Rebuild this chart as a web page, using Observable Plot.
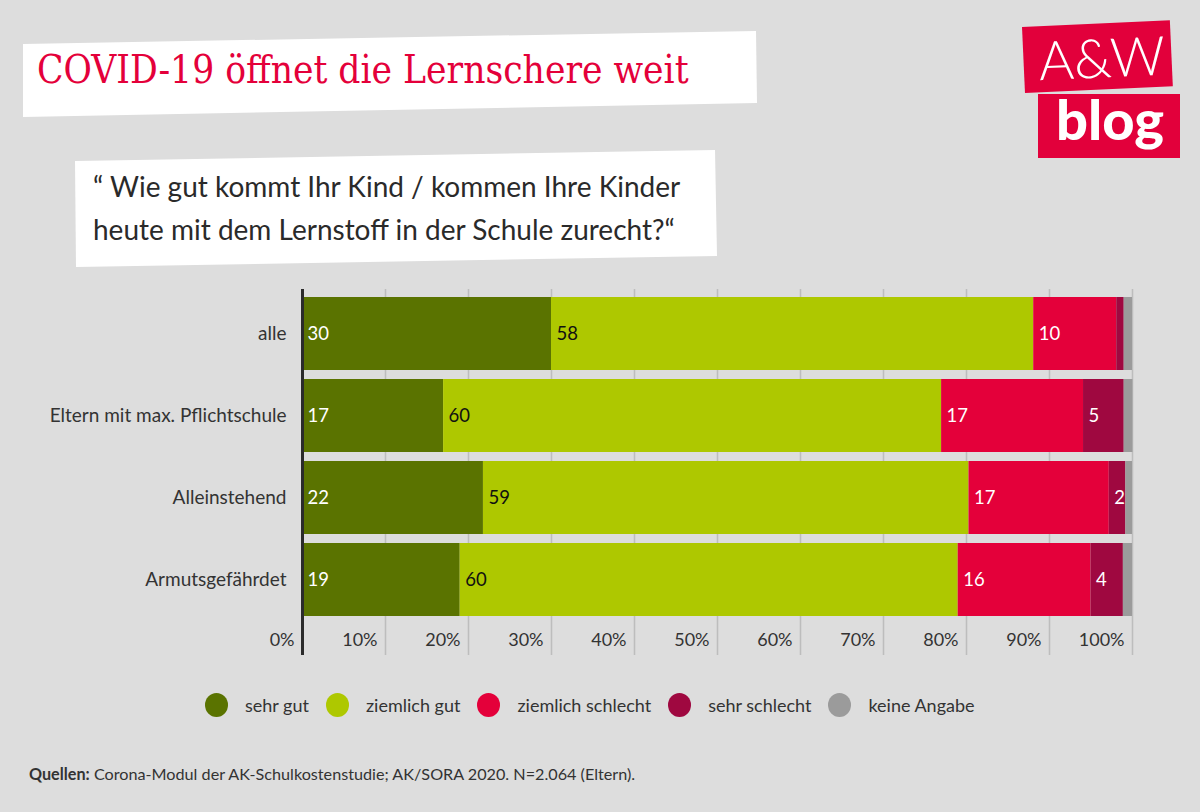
<!DOCTYPE html>
<html>
<head>
<meta charset="utf-8">
<script src="https://cdn.jsdelivr.net/npm/d3@7"></script>
<script src="https://cdn.jsdelivr.net/npm/@observablehq/plot@0.6"></script>
<style>
  html, body { margin: 0; padding: 0; }
  body { width: 1200px; height: 812px; background: #dddddd; position: relative; overflow: hidden; font-family: "Lato", sans-serif; color: #333; }
  .box { position: absolute; background: #fff; }
  #titlebox { left: 23px; top: 31px; width: 734px; height: 86px; clip-path: polygon(0px 13px, 733px 0px, 734px 72px, 0px 86px); }
  #title { position: absolute; left: 37px; top: 44px; font-family: "Liberation Serif", serif; font-size: 42px; color: #e4003a; white-space: nowrap; line-height: 52px; }
  #subbox { left: 75px; top: 150px; width: 642px; height: 117px; clip-path: polygon(0px 11px, 640px 0px, 642px 106px, 1px 117px); }
  #subtitle { position: absolute; left: 93px; top: 165px; font-size: 28px; line-height: 43px; color: #2a2a2a; white-space: nowrap; }
  #logo1 { position: absolute; left: 1022px; top: 27px; width: 148px; height: 66px; background: #e2003b; transform: rotate(-2.6deg); transform-origin: left top; }
  #logo1 span { position: absolute; left: 15px; top: 1px; font-family: "Lato", sans-serif; font-weight: 300; font-size: 54px; line-height: 66px; color: #fff; }
  #logo2 { position: absolute; left: 1038px; top: 94px; width: 142px; height: 64px; background: #e2003b; }
  #logo2 span { position: absolute; left: 18px; top: -7px; font-family: "Lato", sans-serif; font-weight: 900; font-size: 56px; line-height: 64px; color: #fff; }
  #chart { position: absolute; left: 0; top: 270px; }
  #legend { position: absolute; left: 205px; top: 693px; display: flex; align-items: center; font-size: 18px; color: #333; }
  .item { display: flex; align-items: center; margin-right: 17px; }
  .dot { width: 23px; height: 24px; border-radius: 50%; margin-right: 17px; }
  #caption { position: absolute; left: 29px; top: 764px; font-size: 16.2px; color: #333; white-space: nowrap; }
</style>
</head>
<body>
<div id="titlebox" class="box"></div>
<div id="title"></div>
<div id="subbox" class="box"></div>
<div id="subtitle"></div>
<div id="logo1"><span>A&amp;W</span></div>
<div id="logo2"><span>blog</span></div>
<div id="chart"></div>
<div id="legend"></div>
<div id="caption"></div>
<script>
// ---- data ----
const titleText = "COVID-19 öffnet die Lernschere weit";
const subtitleLines = ["“ Wie gut kommt Ihr Kind / kommen Ihre Kinder", "heute mit dem Lernstoff in der Schule zurecht?“"];
const captionBold = "Quellen:";
const captionText = " Corona-Modul der AK-Schulkostenstudie; AK/SORA 2020. N=2.064 (Eltern).";

const groups = ["alle", "Eltern mit max. Pflichtschule", "Alleinstehend", "Armutsgefährdet"];
const categories = ["sehr gut", "ziemlich gut", "ziemlich schlecht", "sehr schlecht", "keine Angabe"];
const colors = ["#5a7300", "#aec800", "#e4003a", "#9f0840", "#9b9b9b"];

const sehrGut          = [30,   17,   21.8, 19];
const ziemlichGut      = [58.1, 60,   58.5, 60];
const ziemlichSchlecht = [10,   17.1, 16.9, 16];
const sehrSchlecht     = [0.9,  4.9,  2,    3.9];
const keineAngabe      = [1,    1.05, 0.8,  1.1];

const xTicks = [0, 10, 20, 30, 40, 50, 60, 70, 80, 90, 100];

// ---- title font: prefer a condensed slab-like serif if installed ----
function hasFont(name) {
  const c = document.createElement("canvas").getContext("2d");
  const s = "COVID-19 öffnet die Lernschere weit";
  c.font = "40px monospace"; const a = c.measureText(s).width;
  c.font = `40px "${name}", monospace`; const b = c.measureText(s).width;
  return Math.abs(a - b) > 1;
}
const titleEl = document.getElementById("title");
if (hasFont("DejaVu Serif Condensed")) {
  titleEl.style.fontFamily = '"DejaVu Serif Condensed", serif';
  titleEl.style.fontSize = "38.5px";
  titleEl.style.top = "44px";
}
titleEl.textContent = titleText;

document.getElementById("subtitle").innerHTML = subtitleLines.map(s => `<div>${s}</div>`).join("");
document.getElementById("caption").innerHTML = `<b>${captionBold}</b>${captionText}`;

const series = [sehrGut, ziemlichGut, ziemlichSchlecht, sehrSchlecht, keineAngabe];
const data = [];
groups.forEach((g, gi) => {
  categories.forEach((c, ci) => {
    data.push({group: g, category: c, value: series[ci][gi]});
  });
});

const W = 1200, H = 400;
const insets = {insetTop: -3.5, insetBottom: -34.5};
const labelText = (keep) => d => (keep(d.category) && d.value >= 1.5) ? String(Math.round(d.value)) : "";

const chart = Plot.plot({
  width: W,
  height: H,
  marginLeft: 302,
  marginRight: 68,
  marginTop: 22.5,
  marginBottom: 49.5,
  style: {background: "transparent", fontFamily: "Lato, sans-serif", fontSize: "17px", color: "#333"},
  x: {domain: [0, 100]},
  y: {domain: groups, paddingInner: 0.11, paddingOuter: 0.055},
  color: {domain: categories, range: colors},
  marks: [
    Plot.ruleX(xTicks.slice(1), {stroke: "#bdbdbd", strokeWidth: 1.5, ...insets}),
    Plot.barX(data, Plot.stackX({x: "value", y: "group", fill: "category", z: "category"})),
    Plot.ruleX([0], {stroke: "#2b2b2b", strokeWidth: 3, ...insets}),
    Plot.text(data, Plot.stackX1({x: "value", y: "group", z: "category",
      text: labelText(c => c !== "ziemlich gut"), fill: "white", textAnchor: "start", dx: 5, fontSize: 18.5})),
    Plot.text(data, Plot.stackX1({x: "value", y: "group", z: "category",
      text: labelText(c => c === "ziemlich gut"), fill: "#111", textAnchor: "start", dx: 5, fontSize: 18.5})),
    Plot.axisY({tickSize: 0, tickPadding: 16, label: null, fontSize: 19, fill: "#333"}),
    Plot.axisX({ticks: xTicks, tickFormat: d => d + "%", tickSize: 0, tickPadding: 12, label: null,
      textAnchor: "end", dx: -8, fontSize: 18, fill: "#333"})
  ]
});
document.getElementById("chart").appendChild(chart);

const legend = document.getElementById("legend");
categories.forEach((c, i) => {
  const item = document.createElement("div");
  item.className = "item";
  item.innerHTML = `<div class="dot" style="background:${colors[i]}"></div><span>${c}</span>`;
  legend.appendChild(item);
});
</script>
</body>
</html>
